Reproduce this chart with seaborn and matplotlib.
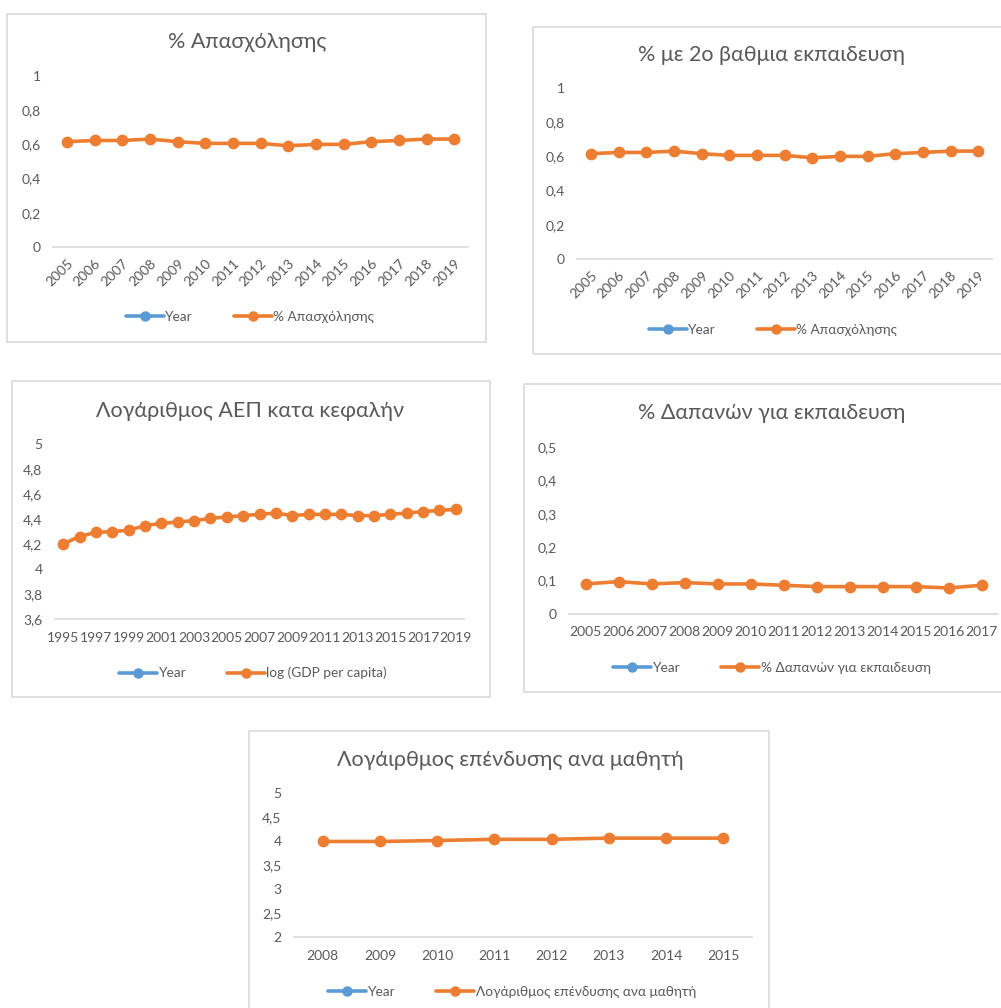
import numpy as np
import pandas as pd
import matplotlib
matplotlib.use("Agg")
import matplotlib.pyplot as plt
from matplotlib.patches import Rectangle
from matplotlib.lines import Line2D
from matplotlib.ticker import FuncFormatter
import seaborn as sns

sns.set_theme(style="white")
plt.rcParams["font.family"] = ["Lato", "Noto Sans", "DejaVu Sans"]

ORANGE = "#ED7D31"
BLUE = "#5B9BD5"
TEXT = "#595959"
BORDER = "#D9D9D9"

# ---- data -------------------------------------------------------------
years_emp = [str(y) for y in range(2005, 2020)]
employment = [0.616, 0.623, 0.623, 0.631, 0.616, 0.606, 0.606, 0.606,
              0.592, 0.600, 0.600, 0.616, 0.623, 0.631, 0.631]

years_sec = [str(y) for y in range(2005, 2020)]
secondary = [0.616, 0.623, 0.623, 0.631, 0.616, 0.606, 0.606, 0.606,
             0.592, 0.600, 0.600, 0.616, 0.623, 0.631, 0.631]

years_gdp = [str(y) for y in range(1995, 2020)]
log_gdp = [4.200, 4.260, 4.293, 4.300, 4.310, 4.347, 4.365, 4.376, 4.387,
           4.405, 4.416, 4.427, 4.437, 4.448, 4.427, 4.437, 4.437, 4.437,
           4.427, 4.427, 4.437, 4.448, 4.459, 4.469, 4.477]

years_spend = [str(y) for y in range(2005, 2018)]
edu_spending = [0.090, 0.097, 0.090, 0.094, 0.090, 0.090, 0.086, 0.082,
                0.082, 0.082, 0.082, 0.078, 0.086]

years_inv = [str(y) for y in range(2008, 2016)]
log_investment = [3.99, 3.99, 4.01, 4.035, 4.035, 4.06, 4.06, 4.06]

W, H = 1001, 1008
fig = plt.figure(figsize=(W / 100, H / 100), dpi=100)


def fx(px):
    return px / W


def fy(py):
    return 1 - py / H


def comma(v, _pos):
    s = f"{v:.10g}"
    return s.replace(".", ",")


def panel(box, axbox, years, values, series, title, title_xy, yticks,
          legend_xy, rotate=False, step=1):
    l, t, r, b = box
    fig.patches.append(Rectangle((fx(l), fy(b)), fx(r - l), (b - t) / H,
                                 transform=fig.transFigure, fill=False,
                                 edgecolor=BORDER, linewidth=1.2,
                                 zorder=-1))
    al, at, ar, ab = axbox
    ax = fig.add_axes([fx(al), fy(ab), fx(ar - al), (ab - at) / H])
    ax.set_facecolor("none")

    df = pd.DataFrame({"Year": years, "value": values,
                       "year_num": [float(y) for y in years]})
    # the Year series sits far above the value range, as in the workbook
    sns.pointplot(data=df, x="Year", y="year_num", color=BLUE, ax=ax,
                  markers="o", linewidth=2.6, markersize=6.5)
    sns.pointplot(data=df, x="Year", y="value", color=ORANGE, ax=ax,
                  markers="o", linewidth=2.6, markersize=6.5)

    n = len(years)
    ax.set_xlim(-0.5, n - 0.5)
    ax.set_ylim(yticks[0], yticks[-1])
    ax.set_yticks(yticks)
    ax.yaxis.set_major_formatter(FuncFormatter(comma))
    ax.set_xlabel("")
    ax.set_ylabel("")
    for s in ("top", "right", "left"):
        ax.spines[s].set_visible(False)
    ax.spines["bottom"].set_color(BORDER)
    ax.spines["bottom"].set_linewidth(1.2)
    ax.tick_params(axis="both", length=0, colors=TEXT, labelsize=10)
    ax.tick_params(axis="y", pad=9)
    ticks = list(range(0, n, step))
    ax.set_xticks(ticks)
    ax.set_xticklabels([years[i] for i in ticks])
    if rotate:
        for lab in ax.get_xticklabels():
            lab.set_rotation(45)
            lab.set_ha("right")
            lab.set_rotation_mode("anchor")
        ax.tick_params(axis="x", pad=7)
    else:
        ax.tick_params(axis="x", pad=9)
    for lab in ax.get_yticklabels() + ax.get_xticklabels():
        lab.set_color(TEXT)

    fig.text(fx(title_xy[0]), fy(title_xy[1]), title, ha="center",
             va="center", fontsize=15.5, color=TEXT)

    handles = [Line2D([], [], color=BLUE, linewidth=2.6, marker="o",
                      markersize=6.5, markevery=[1]),
               Line2D([], [], color=ORANGE, linewidth=2.6, marker="o",
                      markersize=6.5, markevery=[1])]
    for h in handles:
        h.set_xdata([0, 0.5, 1])
    leg = fig.legend(handles, ["Year", series], loc="center",
                     bbox_to_anchor=(fx(legend_xy[0]), fy(legend_xy[1])),
                     ncol=2, frameon=False, fontsize=9.8, handlelength=2.8,
                     handletextpad=0.1, columnspacing=3.0)
    for txt in leg.get_texts():
        txt.set_color(TEXT)
    return ax


panel((7, 14, 486, 342), (53, 76, 468, 247), years_emp, employment,
      "% Απασχόλησης", "% Απασχόλησης", (247, 42),
      [0, 0.2, 0.4, 0.6, 0.8, 1], (250, 317), rotate=True)

panel((533, 27, 1010, 354), (577, 88, 992, 259), years_sec, secondary,
      "% Απασχόλησης", "% με 2ο βαθμια εκπαιδευση", (772, 55),
      [0, 0.2, 0.4, 0.6, 0.8, 1], (773, 330), rotate=True)

panel((12, 381, 490, 697), (55, 444, 464, 619), years_gdp, log_gdp,
      "log (GDP per capita)", "Λογάριθμος ΑΕΠ κατα κεφαλήν", (250, 411),
      [3.6, 3.8, 4.0, 4.2, 4.4, 4.6, 4.8, 5.0], (253, 673), step=2)

panel((524, 384, 1010, 692), (569, 447, 998, 614), years_spend,
      edu_spending, "% Δαπανών για εκπαιδευση",
      "% Δαπανών για εκπαιδευση", (772, 413),
      [0, 0.1, 0.2, 0.3, 0.4, 0.5], (772, 668))

panel((249, 731, 769, 1020), (294, 793, 752, 937), years_inv,
      log_investment, "Λογάριθμος επένδυσης ανα μαθητή",
      "Λογάιρθμος επένδυσης ανα μαθητή", (510, 760),
      [2, 2.5, 3, 3.5, 4, 4.5, 5], (512, 992))

fig.savefig("out.png", dpi=100, facecolor="white")
